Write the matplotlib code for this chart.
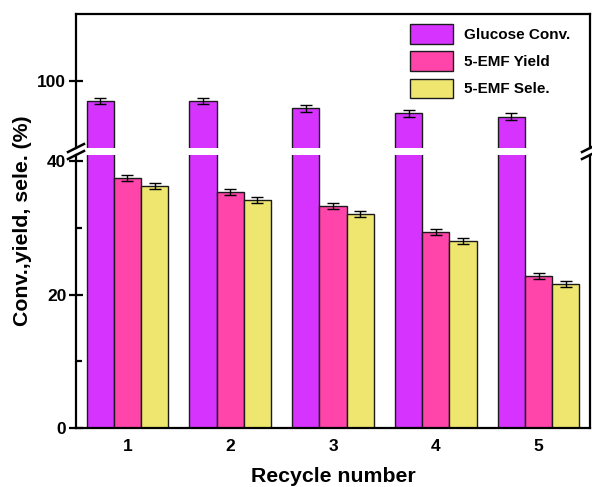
import matplotlib
matplotlib.use("Agg")
import matplotlib.pyplot as plt
import numpy as np
from matplotlib.lines import Line2D

plt.rcParams['font.family'] = ['Liberation Sans', 'DejaVu Sans']
plt.rcParams['font.weight'] = 'bold'

# recycle runs
cycles = [1, 2, 3, 4, 5]
glucose_conv = [97.0, 97.0, 95.9, 95.2, 94.7]
emf_yield = [37.4, 35.3, 33.3, 29.4, 22.8]
emf_sele = [36.3, 34.2, 32.0, 28.0, 21.6]
glucose_err = [0.5, 0.5, 0.5, 0.5, 0.5]
yield_err = [0.45, 0.45, 0.45, 0.45, 0.45]
sele_err = [0.45, 0.45, 0.45, 0.45, 0.45]

labels = ['Glucose Conv.', '5-EMF Yield', '5-EMF Sele.']
colors = ['#D633FF', '#FF44AA', '#EEE66E']

W, H = 592, 487
fig = plt.figure(figsize=(W / 100, H / 100), dpi=100)

def fx(px):
    return px / W

def fy(py):
    return 1 - py / H

left, right = 76, 590
ax_top = fig.add_axes([fx(left), fy(148), fx(right - left), (148 - 14) / H])
ax_bot = fig.add_axes([fx(left), fy(428), fx(right - left), (428 - 155) / H])

x = np.array(cycles, dtype=float)
w = 0.265
series = [glucose_conv, emf_yield, emf_sele]
errs = [glucose_err, yield_err, sele_err]

for ax in (ax_top, ax_bot):
    for i, (vals, err, col, lab) in enumerate(zip(series, errs, colors, labels)):
        ax.bar(x + (i - 1) * w, vals, width=w, color=col, edgecolor='#1a1a1a',
               linewidth=1.0, label=lab, zorder=2)
        ax.errorbar(x + (i - 1) * w, vals, yerr=err, fmt='none', ecolor='black',
                    elinewidth=1.0, capsize=4.5, capthick=1.0, zorder=3)
    ax.set_xlim(0.5, 5.5)
    for s in ax.spines.values():
        s.set_linewidth(1.6)

ax_top.set_ylim(90, 110)
ax_bot.set_ylim(0, 40.9)

ax_top.spines['bottom'].set_visible(False)
ax_bot.spines['top'].set_visible(False)

ax_top.set_yticks([100])
ax_top.set_xticks([])
ax_top.tick_params(axis='y', direction='inout', length=10, width=1.6,
                   labelsize=12.5, pad=2)

ax_bot.set_yticks([0, 20, 40])
ax_bot.set_yticks([10, 30], minor=True)
ax_bot.set_xticks(cycles)
ax_bot.tick_params(axis='y', which='major', direction='inout', length=10,
                   width=1.6, labelsize=12.5, pad=2)
ax_bot.tick_params(axis='y', which='minor', direction='in', length=4, width=1.6)
ax_bot.tick_params(axis='x', direction='in', length=7, width=1.6,
                   labelsize=12.5, pad=8)

for t in ax_top.get_yticklabels() + ax_bot.get_yticklabels() + ax_bot.get_xticklabels():
    t.set_fontweight('bold')

# broken-axis marks on both spines
for cx in (left, right):
    for cy in (148, 155):
        fig.add_artist(Line2D([fx(cx - 8), fx(cx + 8)], [fy(cy + 4), fy(cy - 4)],
                              color='black', lw=1.8, transform=fig.transFigure))

ax_top.legend(loc='upper left', bbox_to_anchor=(fx(410), fy(24)),
              bbox_transform=fig.transFigure, frameon=False,
              prop={'size': 11, 'weight': 'bold'}, handlelength=2.8,
              handleheight=1.6, labelspacing=0.5, handletextpad=0.72,
              borderpad=0, borderaxespad=0)

fig.text(fx(23), fy(221), 'Conv.,yield, sele. (%)', rotation=90,
         ha='center', va='center', fontsize=15.3, fontweight='bold')
fig.text(fx(333), fy(477), 'Recycle number', ha='center', va='center',
         fontsize=15.3, fontweight='bold')

fig.savefig('out.png', dpi=100)
